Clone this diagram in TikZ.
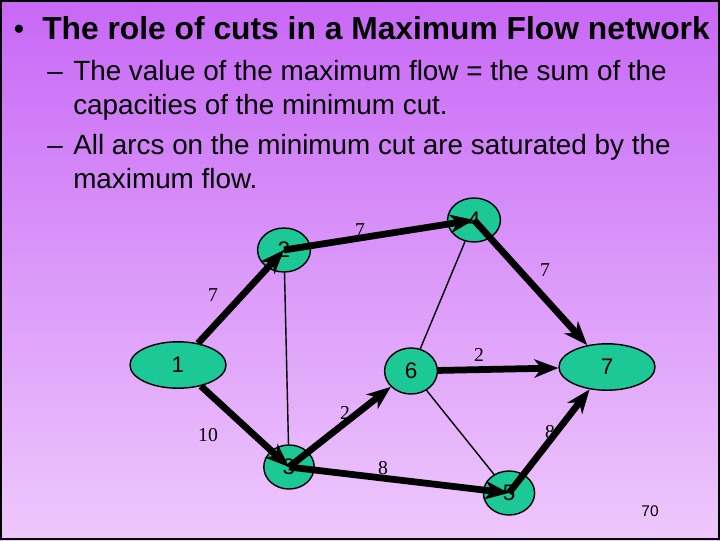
\documentclass[tikz,border=0pt]{standalone}
\usepackage{fontspec}
\setmainfont{Liberation Sans}
\newfontfamily\capfont{Liberation Serif}
\usetikzlibrary{arrows.meta, shapes.geometric, positioning}
\definecolor{slidetop}{RGB}{200,104,246}
\definecolor{slidebottom}{RGB}{238,200,252}
\definecolor{nodegreen}{RGB}{28,200,150}

\begin{document}
\begin{tikzpicture}[
        x=0.025cm, y=-0.025cm,
        vertex/.style={ellipse, draw, line width=1pt, fill=nodegreen, minimum width=1.32cm, minimum height=1.1cm, inner sep=0pt, font=\fontsize{16}{16}\selectfont},
        source/.style={vertex, minimum width=2.4cm, minimum height=1.16cm},
        flow/.style={-{Stealth[length=17pt, width=13pt, inset=5pt]}, line width=4.8pt},
        cut/.style={line width=1pt},
        capnum/.style={font=\capfont\fontsize{14}{14}\selectfont, inner sep=0pt},
        textline/.style={anchor=base west, inner sep=0pt, font=\fontsize{19.8}{20}\selectfont}
    ]
        % slide background
        \useasboundingbox (0,0) rectangle (720,540);
        \shade[top color=slidetop, bottom color=slidebottom] (0,0) rectangle (720,540);
        \draw[line width=1.5pt] (1,1) rectangle (719,539);

        % bullet text
        \node[anchor=base, inner sep=0pt, font=\bfseries\fontsize{20}{20}\selectfont] (dot) at (19,38) {\textbullet};
        \node[textline, font=\bfseries\fontsize{22.6}{23}\selectfont] (title) at (42,39) {The role of cuts in a Maximum Flow network};
        \node[textline] (dash1) at (47,80) {--};
        \node[textline] (line1) at (73,80) {The value of the maximum flow = the sum of the};
        \node[textline] (line2) at (73,114) {capacities of the minimum cut.};
        \node[textline] (dash2) at (47,154) {--};
        \node[textline] (line3) at (73,154) {All arcs on the minimum cut are saturated by the};
        \node[textline] (line4) at (73,188) {maximum flow.};

        % network
        \node[source] (n1) at (178,365) {1};
        \node[vertex] (n2) at (284,250) {2};
        \node[vertex] (n4) at (474,220) {4};
        \node[vertex, minimum height=1.15cm] (n6) at (411,371) {6};
        \node[source] (n7) at (607,367) {7};
        \node[vertex, minimum width=1.26cm] (n3) at (289,467) {3};
        \node[vertex, minimum width=1.28cm] (n5) at (509,493) {5};

        \draw[cut] (n2) -- (n3);
        \draw[cut] (n4) -- (n6);
        \draw[cut] (n6) -- (n5);

        \draw[flow] (n1) -- (n2.center);
        \draw[flow] (n2.center) -- (n4.center);
        \draw[flow] (n4.center) -- (n7);
        \draw[flow] (n1) -- (n3.center);
        \draw[flow] (n3.center) -- (n6);
        \draw[flow] (n3.center) -- (n5.center);
        \draw[flow] (n6) -- (n7);
        \draw[flow] (n5.center) -- (n7);

        % capacities
        \node[capnum] (c12) at (213,295) {7};
        \node[capnum] (c24) at (360,230) {7};
        \node[capnum] (c47) at (545,270) {7};
        \node[capnum] (c13) at (208,435) {10};
        \node[capnum] (c36) at (345,413) {2};
        \node[capnum] (c35) at (383,468) {8};
        \node[capnum] (c67) at (479,355) {2};
        \node[capnum] (c57) at (550,432) {8};

        \node[font=\fontsize{11}{11}\selectfont, inner sep=0pt] (page) at (650,511) {70};
    \end{tikzpicture}
\end{document}
